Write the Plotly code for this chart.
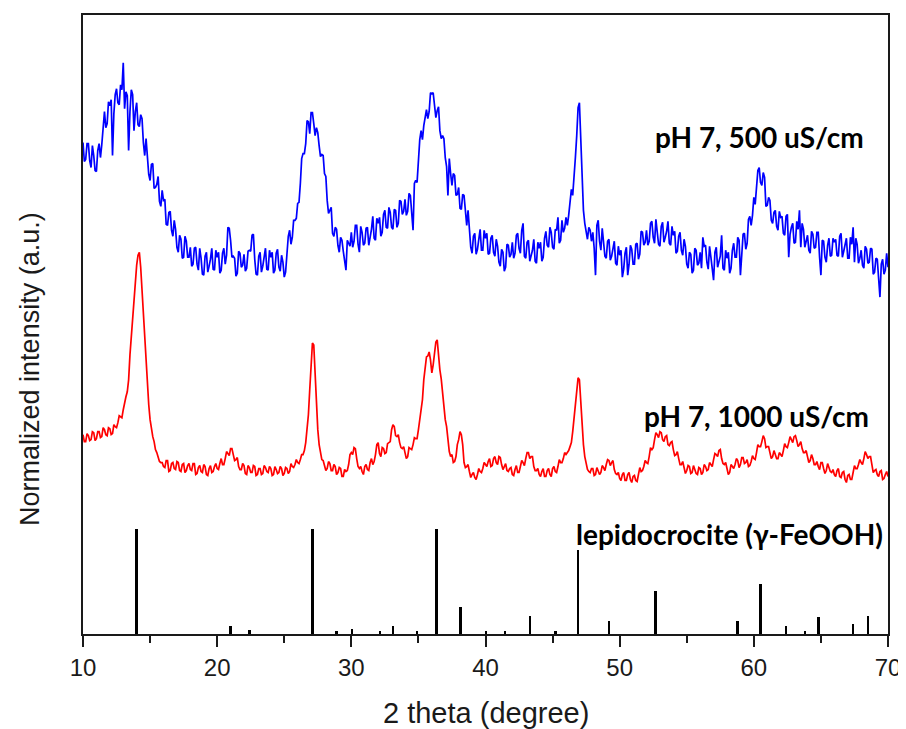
import numpy as np
import plotly.graph_objects as go

# 2-theta sampling grid of the scans (0.1 degree step, 10-70 degree)
theta_scan = np.round(np.linspace(10, 70, 601), 2)

# pH 7, 500 uS/cm (blue): values read at 10.0, 10.2, ... 70.0
blue_500_even = [
    493, 476, 492, 468, 480, 464, 492, 491, 524, 512,
    530, 480, 541, 533, 551, 573, 544, 485, 546, 505,
    533, 509, 517, 480, 481, 455, 472, 448, 459, 429,
    435, 411, 423, 405, 415, 388, 400, 377, 399, 378,
    388, 371, 388, 365, 377, 360, 383, 369, 387, 365,
    378, 362, 382, 371, 408, 395, 379, 359, 384, 368,
    381, 367, 385, 400, 376, 360, 383, 369, 387, 365,
    378, 362, 382, 368, 380, 358, 385, 405, 398, 415,
    432, 452, 482, 492, 514, 523, 512, 508, 490, 481,
    462, 435, 425, 402, 408, 390, 398, 384, 365, 392,
    403, 394, 410, 383, 403, 392, 408, 398, 419, 395,
    412, 399, 421, 408, 428, 408, 426, 408, 435, 421,
    436, 424, 440, 405, 455, 478, 505, 510, 526, 524,
    542, 528, 525, 505, 500, 478, 440, 462, 462, 440,
    448, 426, 440, 410, 408, 382, 402, 386, 406, 385,
    397, 381, 397, 383, 396, 373, 386, 364, 391, 378,
    393, 382, 402, 382, 412, 377, 395, 379, 396, 372,
    387, 374, 397, 390, 408, 388, 406, 418, 395, 403,
    418, 420, 446, 455, 500, 533, 450, 412, 396, 405,
    403, 360, 415, 385, 395, 377, 396, 379, 394, 370,
    380, 358, 382, 360, 390, 371, 391, 376, 404, 390,
    405, 394, 414, 392, 406, 389, 413, 398, 414, 390,
    400, 382, 399, 385, 396, 371, 383, 362, 387, 370,
    383, 398, 390, 366, 378, 355, 388, 373, 400, 365,
    377, 362, 385, 378, 398, 360, 401, 386, 416, 410,
    438, 452, 468, 450, 458, 430, 435, 412, 425, 405,
    418, 402, 419, 378, 408, 392, 414, 425, 412, 388,
    400, 382, 401, 388, 403, 360, 394, 373, 397, 380,
    393, 380, 399, 378, 393, 377, 398, 408, 397, 372,
    385, 367, 386, 373, 386, 363, 376, 338, 376, 365,
    368,
]
# pH 7, 500 uS/cm (blue): values read at 10.1, 10.3, ... 69.9
blue_500_odd = [
    474, 492, 475, 490, 465, 485, 478, 505, 508, 534,
    536, 522, 547, 531, 546, 527, 540, 524, 541, 524,
    511, 521, 493, 497, 461, 471, 447, 451, 434, 445,
    436, 410, 424, 399, 406, 383, 396, 378, 394, 378,
    369, 387, 371, 387, 361, 379, 363, 376, 366, 385,
    383, 365, 387, 380, 407, 378, 377, 362, 382, 370,
    364, 384, 384, 401, 361, 379, 363, 376, 366, 385,
    383, 365, 386, 364, 373, 363, 399, 391, 415, 417,
    433, 477, 482, 515, 502, 523, 500, 503, 479, 480,
    459, 422, 428, 399, 406, 383, 395, 375, 395, 389,
    388, 410, 391, 409, 390, 407, 390, 406, 397, 417,
    418, 403, 425, 407, 423, 406, 425, 412, 434, 424,
    420, 442, 426, 452, 453, 496, 496, 519, 517, 543,
    543, 518, 529, 497, 497, 469, 477, 450, 460, 441,
    427, 441, 420, 425, 388, 399, 381, 394, 385, 405,
    402, 382, 400, 379, 389, 369, 383, 368, 390, 381,
    377, 400, 387, 405, 379, 393, 374, 385, 374, 393,
    393, 378, 404, 388, 403, 386, 405, 392, 415, 407,
    410, 432, 440, 478, 528, 495, 425, 402, 408, 394,
    387, 410, 394, 407, 379, 394, 375, 385, 372, 389,
    385, 366, 388, 371, 386, 371, 392, 381, 403, 393,
    390, 412, 398, 416, 391, 409, 393, 404, 392, 409,
    404, 384, 403, 380, 389, 367, 381, 365, 385, 372,
    367, 389, 373, 389, 364, 383, 368, 379, 367, 385,
    383, 367, 392, 378, 395, 381, 402, 392, 419, 420,
    431, 465, 453, 463, 429, 438, 415, 423, 409, 424,
    419, 400, 421, 401, 412, 393, 406, 388, 406, 393,
    385, 404, 387, 403, 378, 395, 378, 390, 379, 397,
    396, 379, 402, 384, 397, 377, 391, 373, 391, 377,
    370, 389, 372, 387, 361, 377, 360, 371, 361, 382,
]

# pH 7, 1000 uS/cm (red): values read at 10.0, 10.2, ... 70.0
red_1000_even = [
    200, 193, 199, 195, 202, 196, 203, 198, 205, 199,
    206, 201, 208, 212, 218, 225, 238, 255, 300, 340,
    370, 383, 345, 290, 245, 215, 198, 185, 178, 172,
    168, 174, 163, 171, 166, 173, 164, 170, 162, 169,
    165, 171, 160, 167, 163, 170, 160, 166, 162, 168,
    166, 171, 170, 176, 181, 186, 180, 175, 168, 165,
    169, 160, 167, 162, 168, 160, 166, 161, 167, 162,
    166, 160, 165, 162, 166, 161, 166, 163, 168, 170,
    172, 175, 180, 192, 220, 270, 290, 225, 190, 175,
    170, 166, 171, 164, 168, 162, 166, 158, 163, 170,
    182, 187, 176, 166, 163, 168, 165, 172, 170, 180,
    192, 178, 186, 182, 192, 205, 208, 198, 192, 186,
    182, 178, 186, 190, 196, 205, 222, 255, 278, 283,
    262, 285, 295, 265, 240, 215, 195, 178, 172, 178,
    195, 200, 172, 168, 163, 160, 157, 160, 163, 166,
    170, 173, 168, 176, 172, 178, 170, 168, 164, 166,
    160, 165, 162, 168, 172, 176, 182, 178, 168, 164,
    160, 163, 158, 164, 160, 166, 163, 168, 172, 176,
    180, 184, 192, 215, 242, 255, 205, 178, 165, 162,
    166, 160, 164, 162, 167, 170, 174, 172, 165, 160,
    156, 160, 154, 160, 155, 158, 154, 160, 163, 168,
    172, 178, 185, 195, 200, 203, 195, 198, 190, 192,
    185, 180, 176, 170, 167, 164, 168, 162, 165, 160,
    166, 162, 168, 165, 170, 175, 180, 184, 176, 170,
    166, 162, 168, 170, 174, 170, 177, 172, 168, 173,
    176, 182, 188, 193, 196, 188, 182, 178, 180, 176,
    180, 184, 188, 192, 195, 198, 194, 190, 186, 182,
    178, 174, 176, 170, 168, 172, 166, 164, 167, 162,
    160, 164, 158, 162, 155, 159, 155, 162, 166, 170,
    172, 176, 180, 178, 170, 164, 160, 163, 155, 160,
    158,
]
# pH 7, 1000 uS/cm (red): values read at 10.1, 10.3, ... 69.9
red_1000_odd = [
    193, 201, 194, 203, 194, 203, 197, 207, 200, 207,
    200, 210, 207, 219, 217, 234, 243, 280, 319, 357,
    380, 368, 318, 266, 230, 204, 193, 182, 173, 172,
    167, 174, 164, 172, 165, 172, 163, 171, 164, 171,
    164, 171, 161, 169, 162, 168, 159, 169, 163, 171,
    165, 176, 170, 183, 179, 186, 174, 177, 165, 171,
    161, 169, 162, 169, 159, 166, 160, 169, 163, 168,
    159, 168, 161, 168, 159, 167, 161, 171, 167, 175,
    171, 180, 184, 204, 245, 292, 262, 205, 180, 174,
    164, 173, 164, 170, 160, 167, 158, 165, 164, 180,
    180, 186, 168, 168, 160, 170, 164, 176, 173, 190,
    181, 187, 181, 191, 193, 210, 199, 200, 187, 188,
    176, 187, 185, 197, 196, 216, 235, 270, 279, 275,
    270, 293, 277, 256, 223, 208, 183, 180, 173, 190,
    203, 190, 167, 170, 157, 162, 155, 166, 162, 172,
    168, 176, 169, 178, 170, 177, 165, 171, 163, 167,
    159, 169, 162, 174, 169, 182, 176, 178, 164, 166,
    158, 166, 158, 166, 158, 168, 162, 175, 172, 182,
    182, 188, 203, 230, 257, 232, 190, 170, 163, 166,
    159, 167, 160, 169, 164, 175, 169, 174, 161, 162,
    154, 162, 154, 162, 152, 159, 153, 167, 164, 174,
    171, 187, 187, 202, 197, 202, 193, 199, 189, 193,
    179, 183, 170, 173, 161, 169, 161, 169, 161, 167,
    160, 170, 164, 172, 168, 181, 178, 185, 171, 172,
    160, 170, 166, 176, 167, 177, 171, 175, 169, 179,
    175, 190, 188, 199, 187, 188, 176, 184, 176, 182,
    178, 191, 187, 198, 192, 199, 188, 193, 182, 184,
    172, 180, 170, 173, 165, 172, 161, 171, 163, 165,
    158, 166, 157, 163, 152, 160, 155, 169, 166, 175,
    170, 183, 176, 178, 162, 165, 158, 164, 156, 163,
]

# Reference lines: lepidocrocite (gamma-FeOOH)
ref_theta = [14.0, 20.98, 22.4, 27.1, 28.9, 30.05, 32.15, 33.1, 34.9, 36.35,
             38.15, 40.05, 41.45, 43.3, 45.2, 46.9, 49.2, 52.65, 58.8, 60.5,
             62.4, 63.8, 64.8, 67.4, 68.5]
ref_int = [105, 8, 4, 105, 3, 5, 3, 8, 3, 105,
           27, 3, 3, 18, 3, 84, 13, 43, 13, 50,
           8, 3, 17, 10, 18]

x_ticks = [10, 20, 30, 40, 50, 60, 70]


def merge_readings(even, odd):
    out = []
    for a, b in zip(even, odd):
        out.extend([a, b])
    out.append(even[-1])
    return out


blue_500 = merge_readings(blue_500_even, blue_500_odd)
red_1000 = merge_readings(red_1000_even, red_1000_odd)

fig = go.Figure()
fig.add_trace(go.Bar(x=ref_theta, y=ref_int, width=0.19,
                     marker=dict(color="black", line=dict(width=0)),
                     showlegend=False))
fig.add_trace(go.Scatter(x=theta_scan, y=red_1000, mode="lines",
                         line=dict(color="#ff0000", width=1.7), showlegend=False))
fig.add_trace(go.Scatter(x=theta_scan, y=blue_500, mode="lines",
                         line=dict(color="#0000ff", width=1.7), showlegend=False))

lab_font = dict(family="Lato, 'Open Sans', sans-serif", size=28, color="black")
fig.add_annotation(x=60.4, y=499, xref="x", yref="y", text="<b>pH 7, 500 uS/cm</b>",
                   showarrow=False, font=lab_font)
fig.add_annotation(x=60.2, y=219, xref="x", yref="y", text="<b>pH 7, 1000 uS/cm</b>",
                   showarrow=False, font=lab_font)
fig.add_annotation(x=58.2, y=100, xref="x", yref="y", text="<b>lepidocrocite (γ-FeOOH)</b>",
                   showarrow=False, font=lab_font)

fig.add_annotation(x=0.5, y=-0.127, xref="paper", yref="paper", text="2 theta (degree)",
                   showarrow=False, yanchor="middle",
                   font=dict(family="Liberation Sans, Arial, sans-serif", size=29, color="#1a1a1a"))
fig.add_annotation(x=-0.066, y=0.428, xref="paper", yref="paper",
                   text="Normalized intensity (a.u.)", textangle=-90,
                   showarrow=False, xanchor="center", yanchor="middle",
                   font=dict(family="Liberation Sans, Arial, sans-serif", size=27, color="#1a1a1a"))

# page body adds an 8px offset, so the figure is sized/margined to compensate
fig.update_layout(
    width=898, height=721,
    margin=dict(l=75, r=17, t=5, b=95),
    paper_bgcolor="white", plot_bgcolor="white",
    bargap=0,
    xaxis=dict(range=[10, 70], tickvals=x_ticks, ticks="outside", ticklen=11,
               tickwidth=2, tickcolor="#1a1a1a", showline=True, linewidth=2,
               linecolor="#1a1a1a", mirror=True, showgrid=False, zeroline=False,
               tickfont=dict(family="Liberation Sans, Arial, sans-serif", size=24, color="#1a1a1a"),
               minor=dict(dtick=5, tick0=10, ticks="outside", ticklen=7, tickwidth=2,
                          tickcolor="#1a1a1a", showgrid=False)),
    yaxis=dict(range=[0, 621], showticklabels=False, ticks="", showline=True,
               linewidth=2, linecolor="#1a1a1a", mirror=True, showgrid=False,
               zeroline=False),
)

fig.write_html("out.html")
